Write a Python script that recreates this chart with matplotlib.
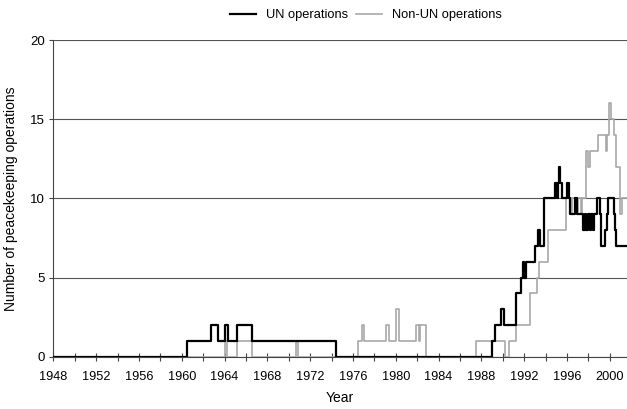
#!/usr/bin/env python3

import matplotlib
matplotlib.use('Agg')
import matplotlib.pyplot as plt
from matplotlib.ticker import MultipleLocator

plt.rcParams['font.family'] = ['Liberation Sans', 'DejaVu Sans']

# step series: year where the count changes, and the count from that year on
un_years = [1948, 1960.45, 1962.75, 1963.4, 1964.0, 1964.3, 1965.2, 1966.6,
            1974.4, 1989.0, 1989.25, 1989.8, 1990.1, 1991.2, 1991.7, 1991.85,
            1991.95, 1992.2, 1993.0, 1993.3, 1993.45, 1993.8, 1994.9, 1995.05,
            1995.15, 1995.25, 1995.35, 1995.5, 1996.0, 1996.2, 1996.3, 1996.75,
            1996.9, 1997.5, 1997.65, 1997.8, 1997.95, 1998.1, 1998.25, 1998.4,
            1998.5, 1998.8, 1999.05, 1999.2, 1999.55, 1999.7, 1999.85, 2000.35,
            2000.45, 2000.6, 2001.6]
un_counts = [0, 1, 2, 1, 2, 1, 2, 1,
             0, 1, 2, 3, 2, 4, 5, 6,
             5, 6, 7, 8, 7, 10, 11, 10,
             11, 12, 11, 10, 11, 10, 9, 10,
             9, 8, 9, 8, 9, 8, 9, 8,
             9, 10, 9, 7, 8, 9, 10, 9,
             8, 7, 7]

nonun_years = [1948, 1964.0, 1964.2, 1965.2, 1966.6, 1970.7, 1970.9, 1976.5,
               1976.85, 1977.0, 1979.1, 1979.4, 1980.05, 1980.3, 1981.9, 1982.2,
               1982.3, 1982.85, 1987.5, 1990.2, 1990.6, 1991.2, 1992.5, 1993.2,
               1993.4, 1994.2, 1995.9, 1996.4, 1996.5, 1996.9, 1997.0, 1997.3,
               1997.4, 1997.8, 1997.95, 1998.1, 1998.9, 1999.6, 1999.75, 1999.95,
               2000.1, 2000.4, 2000.55, 2000.9, 2001.1, 2001.6]
nonun_counts = [0, 1, 0, 1, 0, 1, 0, 1,
                2, 1, 2, 1, 3, 1, 2, 1,
                2, 0, 1, 0, 1, 2, 4, 5,
                6, 8, 10, 9, 10, 9, 10, 9,
                10, 13, 12, 13, 14, 13, 14, 16,
                15, 14, 12, 9, 10, 10]

year_labels = list(range(1948, 2001, 4))

fig = plt.figure(figsize=(6.27, 4.09), dpi=100)
ax = fig.add_axes([0.085, 0.128, 0.915, 0.774])

ax.step(nonun_years, nonun_counts, where='post', color='#a8a8a8', lw=1.2,
        label='Non-UN operations', zorder=3)
ax.step(un_years, un_counts, where='post', color='black', lw=1.6,
        label='UN operations', zorder=4)

ax.set_xlim(1948, 2001.6)
ax.set_ylim(0, 20)
ax.set_yticks([0, 5, 10, 15, 20])
ax.set_xticks(year_labels)
ax.xaxis.set_minor_locator(MultipleLocator(2))
ax.grid(axis='y', color='#555555', lw=0.8)
ax.set_axisbelow(True)

for s in ['top', 'right']:
    ax.spines[s].set_visible(False)
ax.spines['left'].set_color('#444444')
ax.spines['bottom'].set_color('#444444')
ax.spines['left'].set_linewidth(0.8)
ax.spines['bottom'].set_linewidth(0.8)

ax.tick_params(axis='y', length=3, width=0.8, color='#444444', labelsize=9.5, pad=3)
ax.tick_params(axis='x', which='both', direction='inout', length=6, width=0.8,
               color='#444444', labelsize=9.2, pad=7)

ax.set_xlabel('Year', fontsize=10, labelpad=6)
ax.set_ylabel('Number of peacekeeping operations', fontsize=10, labelpad=9)

h, l = ax.get_legend_handles_labels()
fig.legend(h[::-1], l[::-1], loc='center', bbox_to_anchor=(0.584, 0.963),
           ncol=2, frameon=False, fontsize=9.3, handlelength=2.0,
           columnspacing=0.6, handletextpad=0.8)

fig.savefig('out.png', dpi=100)
